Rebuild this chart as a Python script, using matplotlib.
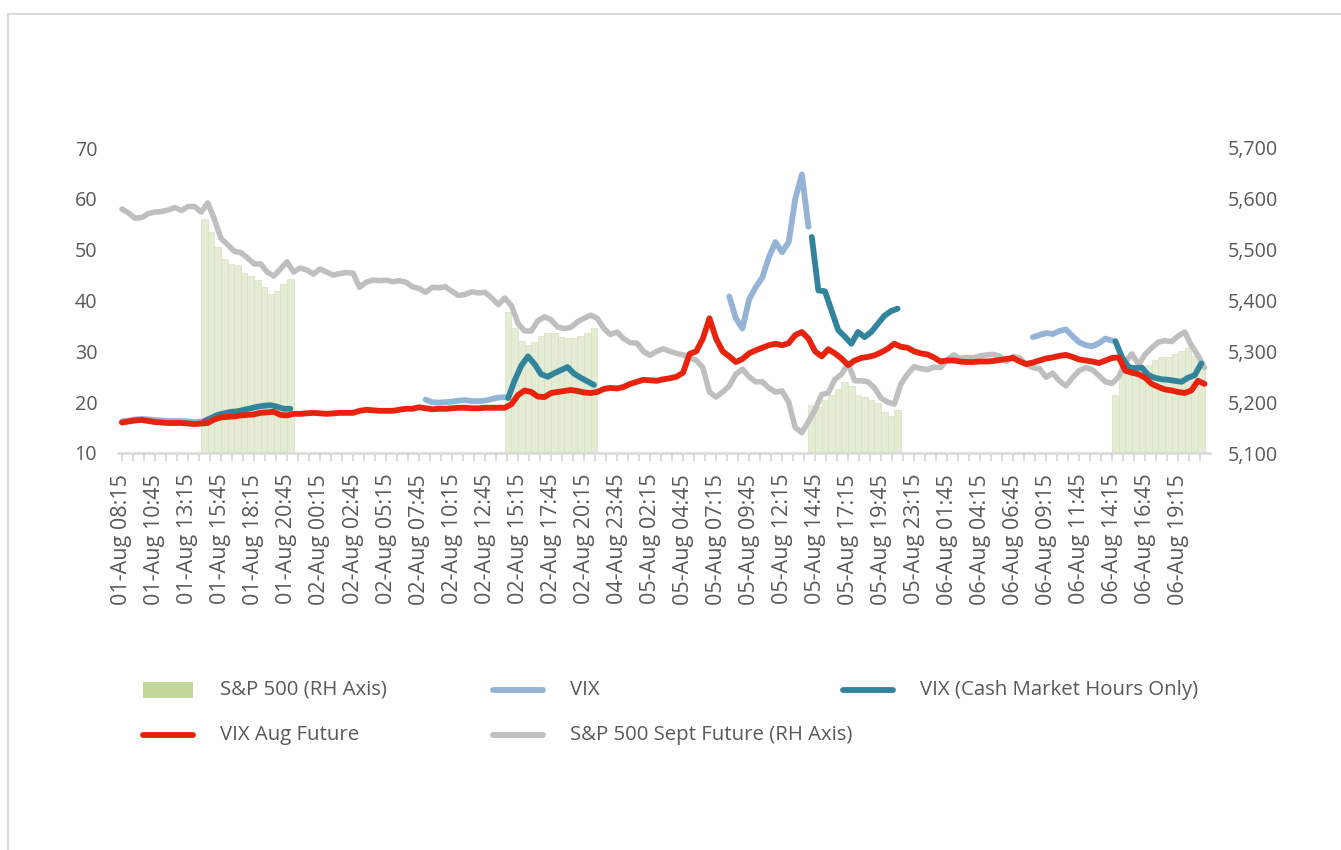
import numpy as np
import matplotlib
matplotlib.use("Agg")
import matplotlib.pyplot as plt
from matplotlib.lines import Line2D
from matplotlib.patches import Rectangle
from matplotlib.ticker import FixedLocator

plt.rcParams['font.family'] = ['Open Sans', 'DejaVu Sans']

# ---------------- data ----------------
tick_labels = ["01-Aug 08:15", "01-Aug 10:45", "01-Aug 13:15", "01-Aug 15:45", "01-Aug 18:15",
               "01-Aug 20:45", "02-Aug 00:15", "02-Aug 02:45", "02-Aug 05:15", "02-Aug 07:45",
               "02-Aug 10:15", "02-Aug 12:45", "02-Aug 15:15", "02-Aug 17:45", "02-Aug 20:15",
               "04-Aug 23:45", "05-Aug 02:15", "05-Aug 04:45", "05-Aug 07:15", "05-Aug 09:45",
               "05-Aug 12:15", "05-Aug 14:45", "05-Aug 17:15", "05-Aug 19:45", "05-Aug 23:15",
               "06-Aug 01:45", "06-Aug 04:15", "06-Aug 06:45", "06-Aug 09:15", "06-Aug 11:45",
               "06-Aug 14:15", "06-Aug 16:45", "06-Aug 19:15"]
label_every = 10          # categories between labels (15-min slots)
n_slots = 329

# S&P 500 Sept Future (RH axis), every 2nd slot from slot 0
sp_fut = [5580, 5572, 5562, 5563, 5571, 5574, 5575, 5578, 5583, 5577,
          5585, 5585, 5574, 5592, 5560, 5522, 5510, 5497, 5494, 5484,
          5472, 5472, 5456, 5448, 5462, 5476, 5456, 5464, 5460, 5452,
          5462, 5456, 5450, 5453, 5455, 5454, 5426, 5436, 5440, 5439,
          5440, 5437, 5439, 5436, 5427, 5424, 5416, 5426, 5425, 5427,
          5418, 5410, 5412, 5417, 5415, 5416, 5405, 5392, 5405, 5390,
          5355, 5340, 5340, 5360, 5368, 5362, 5348, 5345, 5347, 5358,
          5365, 5371, 5365, 5345, 5333, 5338, 5325, 5317, 5316, 5300,
          5292, 5300, 5305, 5300, 5296, 5293, 5288, 5282, 5268, 5220,
          5210, 5220, 5232, 5255, 5265, 5250, 5240, 5240, 5228, 5220,
          5222, 5200, 5150, 5140, 5162, 5185, 5215, 5218, 5245, 5255,
          5276, 5242, 5242, 5240, 5228, 5208, 5200, 5196, 5236, 5255,
          5270, 5266, 5264, 5269, 5268, 5283, 5293, 5286, 5288, 5287,
          5291, 5293, 5294, 5290, 5280, 5290, 5287, 5274, 5268, 5266,
          5249, 5257, 5242, 5232, 5248, 5262, 5268, 5264, 5252, 5240,
          5237, 5250, 5279, 5295, 5274, 5294, 5307, 5318, 5321, 5319,
          5330, 5338, 5312, 5292, 5268]

# VIX Aug Future, every 2nd slot from slot 0
vix_fut = [16.0, 16.2, 16.4, 16.5, 16.3, 16.1, 16.0, 15.9, 15.9, 15.9,
           15.8, 15.7, 15.8, 15.9, 16.6, 17.0, 17.1, 17.2, 17.4, 17.5,
           17.6, 17.9, 18.0, 18.1, 17.5, 17.4, 17.7, 17.7, 17.8, 17.9,
           17.8, 17.7, 17.8, 17.9, 17.9, 17.9, 18.3, 18.5, 18.4, 18.3,
           18.3, 18.3, 18.5, 18.7, 18.7, 19.0, 18.8, 18.6, 18.7, 18.7,
           18.8, 18.9, 18.9, 18.8, 18.8, 18.9, 18.9, 18.9, 18.9, 19.6,
           21.4, 22.3, 22.0, 21.1, 21.0, 21.8, 22.0, 22.2, 22.4, 22.2,
           21.9, 21.8, 22.0, 22.6, 22.8, 22.7, 23.0, 23.6, 24.0, 24.4,
           24.3, 24.2, 24.5, 24.7, 25.0, 25.8, 29.5, 30.0, 32.5, 36.5,
           32.5, 30.0, 29.0, 27.9, 28.5, 29.6, 30.2, 30.7, 31.2, 31.5,
           31.2, 31.6, 33.2, 33.8, 32.5, 30.0, 29.0, 30.4, 29.6, 28.6,
           27.3, 28.2, 28.7, 28.9, 29.2, 29.8, 30.5, 31.5, 30.9, 30.7,
           30.0, 29.6, 29.4, 28.8, 28.0, 28.2, 28.2, 28.0, 27.9, 27.9,
           28.0, 28.0, 28.1, 28.3, 28.5, 28.7, 28.0, 27.5, 27.8, 28.2,
           28.6, 28.8, 29.1, 29.3, 28.9, 28.4, 28.2, 28.0, 27.7, 28.2,
           28.7, 28.8, 26.2, 25.8, 25.5, 24.8, 23.6, 23.0, 22.5, 22.3,
           22.0, 21.8, 22.3, 24.2, 23.6]

# VIX outside cash hours (every 2nd slot, 08:15-14:15 UK)
vix_starts = [0, 92, 184, 276]
vix_01 = [16.2, 16.4, 16.6, 16.7, 16.6, 16.5, 16.4, 16.3, 16.3, 16.3, 16.2, 16.1, 16.2]
vix_02 = [20.5, 20.0, 19.9, 20.0, 20.1, 20.3, 20.4, 20.2, 20.2, 20.3, 20.6, 20.9, 21.0]
vix_05 = [40.8, 36.5, 34.5, 40.2, 42.6, 44.5, 48.5, 51.5, 49.5, 51.5, 60.0, 64.8, 54.5]
vix_06 = [32.8, 33.2, 33.6, 33.4, 34.0, 34.3, 33.0, 31.8, 31.2, 31.0, 31.6, 32.5, 32.1]

# VIX cash market hours (every 2nd slot, 14:30-21:00 UK)
cash_starts = [25, 117, 209, 301]
vixc_01 = [16.3, 16.9, 17.5, 17.8, 18.1, 18.2, 18.5, 18.8, 19.1, 19.3, 19.4, 19.1, 18.7, 18.7]
vixc_02 = [20.8, 24.3, 27.2, 29.0, 27.5, 25.5, 25.0, 25.7, 26.3, 26.9, 25.6, 24.8, 24.1, 23.4]
vixc_05 = [52.5, 42.0, 41.8, 38.0, 34.2, 32.9, 31.5, 33.8, 32.8, 33.8, 35.4, 37.0, 37.9, 38.4]
vixc_06 = [32.0, 28.8, 26.9, 26.7, 26.8, 25.3, 24.8, 24.5, 24.4, 24.2, 24.0, 24.8, 25.3, 27.6]

# S&P 500 cash index (RH axis), same slots as the cash VIX
spx_01 = [5560, 5535, 5505, 5482, 5472, 5470, 5455, 5449, 5440, 5426, 5413, 5419, 5432, 5442]
spx_02 = [5378, 5345, 5320, 5313, 5318, 5330, 5336, 5337, 5328, 5326, 5327, 5330, 5336, 5345]
spx_05 = [5195, 5190, 5205, 5215, 5225, 5240, 5232, 5214, 5210, 5204, 5198, 5180, 5172, 5184]
spx_06 = [5215, 5262, 5268, 5265, 5264, 5274, 5282, 5289, 5289, 5294, 5300, 5306, 5290, 5280]

# ---------------- styling ----------------
C_BAR = '#c4d79b'
C_BAR_FILL = '#e5ecd6'
C_BAR_EDGE = '#d6e2bd'
C_VIX = '#95b3d7'
C_VIXC = '#31849b'
C_FUT = '#e8220c'
C_SPF = '#bfbfbf'
C_TXT = '#595959'
C_AX = '#d9d9d9'
FS_X = 15.5
FS_Y = 14.2
FS_LEG = 14.7
LW = 4.2

W, H = 1341, 850
fig = plt.figure(figsize=(W / 100, H / 100), dpi=100)

x0, x1 = -1.2, 329.5
left_px, right_px = 118.0, 1209.5
top_px, bot_px = 148.0, 453.0
ax = fig.add_axes([left_px / W, 1 - bot_px / H, (right_px - left_px) / W, (bot_px - top_px) / H])
ax2 = ax.twinx()
ax.set_zorder(2)
ax2.set_zorder(1)
ax.patch.set_visible(False)

# bars: S&P 500 cash
for start, vals in zip(cash_starts, [spx_01, spx_02, spx_05, spx_06]):
    xs = start + 2 * np.arange(len(vals))
    ax2.bar(xs, np.array(vals) - 5100, bottom=5100, width=2.0, color=C_BAR_FILL,
            edgecolor=C_BAR_EDGE, linewidth=0.5)

# gray line: S&P Sept future
xs_even = 2 * np.arange(len(sp_fut))
ax2.plot(xs_even, sp_fut, color=C_SPF, lw=LW * 0.95, solid_capstyle='round', solid_joinstyle='round')

# VIX (blue)
for start, vals in zip(vix_starts, [vix_01, vix_02, vix_05, vix_06]):
    xs = start + 2 * np.arange(len(vals))
    ax.plot(xs, vals, color=C_VIX, lw=LW, solid_capstyle='round', solid_joinstyle='round')
# VIX cash (teal)
for start, vals in zip(cash_starts, [vixc_01, vixc_02, vixc_05, vixc_06]):
    xs = start + 2 * np.arange(len(vals))
    ax.plot(xs, vals, color=C_VIXC, lw=LW, solid_capstyle='round', solid_joinstyle='round')
# VIX Aug future (red)
ax.plot(2 * np.arange(len(vix_fut)), vix_fut, color=C_FUT, lw=LW,
        solid_capstyle='round', solid_joinstyle='round')

# axes
ax.set_xlim(x0, x1)
ax.set_ylim(10, 70)
ax2.set_ylim(5100, 5700)
ax.set_yticks(np.arange(10, 71, 10))
ax2.set_yticks(np.arange(5100, 5701, 100))
ax2.set_yticklabels([f"{v:,}" for v in range(5100, 5701, 100)])
major = np.arange(len(tick_labels)) * label_every
ax.xaxis.set_major_locator(FixedLocator(major))
ax.set_xticklabels(tick_labels, rotation=90)
minor = [m for m in np.arange(0, n_slots, label_every / 3) if abs(m / label_every - round(m / label_every)) > 1e-6]
ax.xaxis.set_minor_locator(FixedLocator(minor))

for a in (ax, ax2):
    for s in ('top', 'left', 'right'):
        a.spines[s].set_visible(False)
ax2.spines['bottom'].set_visible(False)
ax.spines['bottom'].set_color(C_AX)
ax.spines['bottom'].set_linewidth(1.8)

ax.tick_params(axis='x', which='both', length=6, width=1.3, color=C_AX, labelcolor=C_TXT,
               labelsize=FS_X, pad=9)
ax.tick_params(axis='y', length=0, labelcolor=C_TXT, labelsize=FS_Y, pad=15)
ax2.tick_params(axis='y', length=0, labelcolor=C_TXT, labelsize=FS_Y, pad=13)

# ---------------- legend (drawn in figure coordinates) ----------------
def fy(ypx):
    return 1 - ypx / H

def fx(xpx):
    return xpx / W

row1, row2 = 690, 735
fig.add_artist(Rectangle((fx(143), fy(row1 + 8)), fx(193) - fx(143), 16 / H,
                         transform=fig.transFigure, facecolor=C_BAR, edgecolor='none'))
legend_lines = [(143, row2, C_FUT), (493, row1, C_VIX), (843, row1, C_VIXC), (493, row2, C_SPF)]
for lx, ly, c in legend_lines:
    fig.add_artist(Line2D([fx(lx), fx(lx + 50)], [fy(ly), fy(ly)], transform=fig.transFigure,
                          color=c, lw=LW, solid_capstyle='round'))
legend_texts = [(220, row1, "S&P 500 (RH Axis)"), (570, row1, "VIX"),
                (920, row1, "VIX (Cash Market Hours Only)"),
                (220, row2, "VIX Aug Future"), (570, row2, "S&P 500 Sept Future (RH Axis)")]
for tx, ty, t in legend_texts:
    fig.text(fx(tx), fy(ty), t, color=C_TXT, fontsize=FS_LEG, ha='left', va='center')

# outer frame
fig.add_artist(Rectangle((fx(8), -0.01), 1.0, fy(14) + 0.01, transform=fig.transFigure,
                         fill=False, edgecolor=C_AX, lw=1.5))

fig.savefig("out.png", dpi=100)
